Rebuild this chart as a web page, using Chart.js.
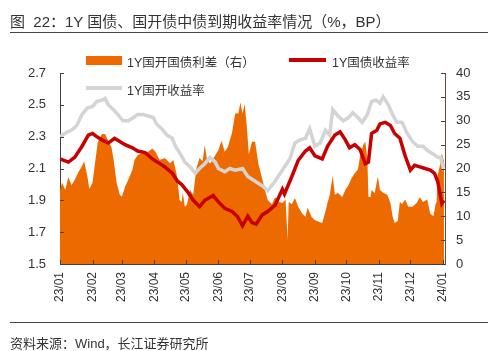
<!DOCTYPE html>
<html>
<head>
<meta charset="utf-8">
<script src="https://cdn.jsdelivr.net/npm/chart.js@4"></script>
<style>
  body { margin: 0; background: #fff; }
  #wrap { position: relative; width: 500px; height: 351px; font-family: 'Liberation Sans', 'Noto Sans CJK SC', sans-serif; color: #333; }
  #chart { position: absolute; left: 0; top: 0; }
  .txt { position: absolute; white-space: nowrap; }
  .rule { position: absolute; left: 10px; width: 478px; height: 1px; background: #444; }
  .sw { position: absolute; }
</style>
</head>
<body>
<div id="wrap">
  <canvas id="chart" width="500" height="351"></canvas>
  <div class="txt" style="left:10px; top:10px; font-size:15px;">图&nbsp;&nbsp;22：1Y 国债、国开债中债到期收益率情况（%，BP）</div>
  <div class="rule" style="top:32px;"></div>
  <div class="sw" style="left:86px; top:56px; width:36px; height:9px; background:#EC6A00;"></div>
  <div class="txt" style="left:127px; top:52px; font-size:12.5px;">1Y国开国债利差（右）</div>
  <div class="sw" style="left:289px; top:58px; width:37px; height:4px; background:#C80000;"></div>
  <div class="txt" style="left:332px; top:52px; font-size:12.5px;">1Y国债收益率</div>
  <div class="sw" style="left:86px; top:86px; width:36px; height:4px; background:#D4D4D4;"></div>
  <div class="txt" style="left:127px; top:80px; font-size:12.5px;">1Y国开收益率</div>
  <div class="rule" style="top:322px;"></div>
  <div class="txt" style="left:10px; top:333px; font-size:13px;">资料来源：Wind，长江证券研究所</div>
</div>
<script>
// days counted from 2023-01-01
const monthDays = [0, 31, 59, 90, 120, 151, 181, 212, 243, 273, 304, 334, 365];
const monthLabels = ['23/01', '23/02', '23/03', '23/04', '23/05', '23/06', '23/07', '23/08', '23/09', '23/10', '23/11', '23/12', '24/01'];

// 1Y 国债收益率 (%)
const cgbDays = [0, 8, 14, 21, 27, 31, 35, 40, 46, 52, 57, 62, 69, 74, 81, 88, 93, 100, 107, 112,
  116, 122, 127, 133, 138, 146, 151, 157, 164, 169, 174, 179, 183, 187, 193, 198, 205, 212, 214, 221,
  227, 234, 238, 243, 250, 255, 262, 267, 272, 276, 281, 286, 291, 294, 297, 302, 305, 310, 315, 319,
  324, 329, 334, 338, 343, 348, 353, 357, 360, 364, 366];
const cgbYield = [2.16, 2.14, 2.17, 2.24, 2.31, 2.32, 2.30, 2.28, 2.26, 2.29, 2.27, 2.25, 2.23, 2.21, 2.20, 2.16, 2.14, 2.11, 2.07, 2.02,
  2.00, 1.95, 1.90, 1.86, 1.90, 1.93, 1.89, 1.85, 1.83, 1.80, 1.74, 1.80, 1.76, 1.75, 1.81, 1.83, 1.87, 1.97, 1.94, 2.05,
  2.15, 2.21, 2.23, 2.18, 2.16, 2.24, 2.31, 2.33, 2.28, 2.23, 2.25, 2.22, 2.13, 2.14, 2.32, 2.34, 2.38, 2.39, 2.37, 2.32,
  2.29, 2.18, 2.09, 2.12, 2.11, 2.10, 2.09, 2.07, 2.02, 1.88, 1.90];

// 1Y 国开收益率 (%)
const cdbDays = [0, 7, 11, 16, 21, 26, 31, 35, 40, 43, 46, 51, 55, 60, 65, 70, 74, 79, 84, 89,
  92, 97, 102, 107, 110, 114, 119, 124, 129, 133, 138, 143, 148, 151, 157, 162, 167, 174, 179, 186,
  193, 198, 205, 213, 219, 224, 229, 234, 238, 243, 248, 253, 257, 260, 265, 270, 275, 279, 284, 288,
  293, 297, 301, 305, 308, 313, 317, 321, 326, 331, 336, 341, 346, 351, 356, 360, 363, 365, 367];
const cdbYield = [2.30, 2.33, 2.34, 2.37, 2.44, 2.48, 2.49, 2.52, 2.53, 2.54, 2.50, 2.47, 2.44, 2.40, 2.40, 2.42, 2.44, 2.44, 2.43, 2.42,
  2.38, 2.35, 2.31, 2.29, 2.24, 2.20, 2.14, 2.11, 2.07, 2.10, 2.13, 2.17, 2.14, 2.10, 2.08, 2.10, 2.09, 2.10, 2.05, 2.02,
  1.99, 1.96, 2.02, 2.10, 2.16, 2.26, 2.28, 2.29, 2.35, 2.24, 2.26, 2.34, 2.31, 2.47, 2.43, 2.40, 2.42, 2.45, 2.42, 2.39,
  2.44, 2.52, 2.53, 2.51, 2.55, 2.50, 2.44, 2.39, 2.39, 2.32, 2.27, 2.24, 2.24, 2.21, 2.19, 2.17, 2.17, 2.11, 2.13];

// 1Y 国开国债利差 (BP, right axis)
const spreadDays = [0, 2, 5, 8, 11, 14, 17, 21, 23, 26, 28, 31, 33, 36, 40, 43, 46, 49, 51, 54,
  57, 59, 62, 65, 69, 71, 74, 79, 84, 88, 91, 95, 100, 105, 108, 111, 112, 114, 116, 117,
  119, 121, 124, 127, 130, 133, 136, 138, 140, 143, 148, 151, 154, 157, 160, 164, 167, 170, 172, 174,
  176, 178, 180, 183, 186, 189, 193, 196, 198, 202, 205, 209, 212, 215, 217, 218, 221, 224, 227, 231,
  234, 236, 240, 243, 246, 250, 253, 255, 257, 260, 262, 265, 269, 272, 275, 278, 281, 284, 286, 289,
  291, 293, 294, 296, 297, 300, 303, 305, 308, 312, 315, 317, 319, 322, 324, 326, 329, 332, 336, 340,
  343, 346, 350, 353, 356, 358, 359, 360, 362, 364, 366];
const spreadBp = [15.5, 17.0, 15.5, 18.2, 16.5, 17.6, 19.0, 20.5, 21.5, 18.5, 15.7, 17.0, 20.4, 25.5, 27.2, 27.2, 25.8, 24.5, 22.0, 17.0,
  14.5, 14.1, 16.2, 17.6, 19.7, 21.8, 22.8, 23.3, 23.5, 24.2, 23.5, 21.8, 22.2, 21.1, 21.8, 19.0, 17.5, 13.4, 13.0, 15.0,
  12.0, 12.4, 15.5, 14.5, 20.0, 22.2, 21.5, 24.9, 22.0, 21.0, 22.8, 23.9, 25.8, 23.5, 24.5, 27.5, 31.5, 31.5, 33.8, 31.5,
  33.5, 29.0, 23.0, 25.6, 25.6, 21.1, 17.6, 15.0, 13.4, 12.5, 14.0, 13.0, 12.8, 13.5, 5.0, 13.0, 12.5, 13.8, 12.0, 10.5,
  9.9, 11.8, 9.8, 9.2, 8.9, 8.6, 11.0, 12.8, 14.3, 18.5, 14.5, 14.9, 14.0, 15.5, 16.5, 18.0, 19.0, 19.8, 22.5, 24.9,
  25.6, 22.0, 14.1, 14.0, 15.5, 14.8, 18.3, 15.5, 14.9, 14.5, 12.8, 10.0, 8.6, 9.0, 13.0, 12.5, 13.5, 12.0, 12.0, 12.8,
  14.0, 13.0, 13.5, 10.5, 10.0, 12.5, 13.0, 18.5, 20.5, 23.2, 21.5];

const toPoints = (days, vals) => days.map((d, i) => ({ x: d, y: vals[i] }));

const FONT = "'Liberation Sans', 'Noto Sans CJK SC', sans-serif";
const AXIS = '#404040';

const innerTicks = {
  id: 'innerTicks',
  afterDraw(chart) {
    const { ctx, chartArea: a, scales } = chart;
    ctx.save();
    ctx.strokeStyle = AXIS;
    ctx.lineWidth = 1;
    ctx.beginPath();
    scales.y.ticks.forEach(t => {
      const p = Math.round(scales.y.getPixelForValue(t.value)) + 0.5;
      ctx.moveTo(a.left, p); ctx.lineTo(a.left + 4, p);
    });
    scales.y1.ticks.forEach(t => {
      const p = Math.round(scales.y1.getPixelForValue(t.value)) + 0.5;
      ctx.moveTo(a.right, p); ctx.lineTo(a.right - 4, p);
    });
    scales.x.ticks.forEach(t => {
      const p = Math.round(scales.x.getPixelForValue(t.value)) + 0.5;
      ctx.moveTo(p, a.bottom); ctx.lineTo(p, a.bottom - 4);
    });
    ctx.stroke();
    ctx.restore();
  }
};

new Chart(document.getElementById('chart').getContext('2d'), {
  type: 'line',
  data: {
    datasets: [
      {
        label: '1Y国债收益率',
        data: toPoints(cgbDays, cgbYield),
        borderColor: '#C80000',
        borderWidth: 3.5,
        pointRadius: 0,
        yAxisID: 'y',
      },
      {
        label: '1Y国开收益率',
        data: toPoints(cdbDays, cdbYield),
        borderColor: '#D4D4D4',
        borderWidth: 3.5,
        pointRadius: 0,
        yAxisID: 'y',
      },
      {
        label: '1Y国开国债利差（右）',
        data: toPoints(spreadDays, spreadBp),
        borderWidth: 0,
        borderColor: '#EC6A00',
        backgroundColor: '#EC6A00',
        fill: 'origin',
        pointRadius: 0,
        yAxisID: 'y1',
      },
    ],
  },
  options: {
    responsive: false,
    animation: false,
    layout: { padding: { top: 73, left: 0, right: 0, bottom: 0 } },
    plugins: { legend: { display: false }, tooltip: { enabled: false } },
    scales: {
      x: {
        type: 'linear',
        min: 0,
        max: 367,
        afterBuildTicks: (scale) => { scale.ticks = monthDays.map(v => ({ value: v })); },
        afterFit: (scale) => { scale.height = 87; },
        grid: { display: false, drawTicks: false },
        border: { display: true, color: AXIS, width: 1 },
        ticks: {
          autoSkip: false,
          minRotation: 90,
          maxRotation: 90,
          padding: 8,
          color: '#333',
          font: { family: FONT, size: 12 },
          callback: (v) => monthLabels[monthDays.indexOf(v)],
        },
      },
      y: {
        position: 'left',
        min: 1.5,
        max: 2.7,
        afterFit: (scale) => { scale.width = 60; },
        grid: { display: false, drawTicks: false },
        border: { display: true, color: AXIS, width: 1 },
        ticks: {
          stepSize: 0.2,
          padding: 14,
          color: '#333',
          font: { family: FONT, size: 13 },
          callback: (v) => v.toFixed(1),
        },
      },
      y1: {
        position: 'right',
        min: 0,
        max: 40,
        afterFit: (scale) => { scale.width = 55; },
        grid: { display: false, drawTicks: false },
        border: { display: true, color: '#6b4a30', width: 1 },
        ticks: {
          stepSize: 5,
          padding: 11,
          color: '#333',
          font: { family: FONT, size: 13 },
        },
      },
    },
  },
  plugins: [innerTicks],
});
</script>
</body>
</html>
